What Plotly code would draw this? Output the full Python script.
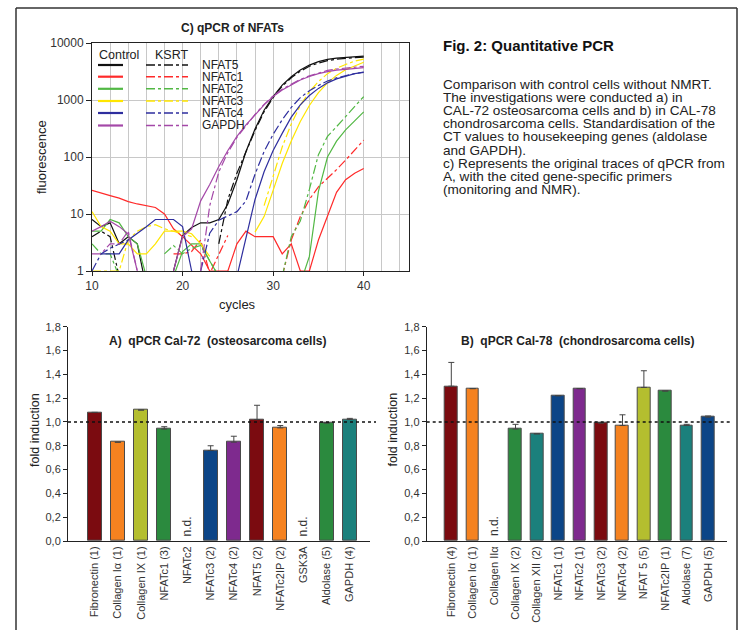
import plotly.graph_objects as go

W, H = 746, 630
def px(x): return x / W
def py(y): return 1 - y / H

FONT = "Liberation Sans, Arial, sans-serif"

# ---------------- qPCR traces (C) ----------------
cycles = list(range(10, 41))
N = None
nfat5_ctrl  = [8, 6, 7, 3, 4, 3, 0.5, 0.5, 0.5, 1, 4.2, 5.8, 7, 7, 8, 15, 40, 125, 310, 660, 1150, 1830, 2560, 3350, 4100, 4700, 5150, 5430, 5600, 5750, 5900]
nfat5_ksrt  = [4, 5, 4, 0.8, N, N, N, N, N, N, N, N, N, N, 3, 18, 52, 125, 290, 620, 1100, 1750, 2450, 3200, 3900, 4450, 4900, 5200, 5400, 5550, 5650]
nfatc1_ctrl = [26, 23, 21, 19, 16.5, 15, 14, 13, 10, 5.5, 4, 2.8, 2, 1, 1, 1, 3, 5, 4, 4, 4, 2, 3, 1, 1, 3.5, 9.5, 24, 40, 52, 63]
nfatc1_ksrt = [N, N, N, N, N, N, N, N, N, 2, 2, 2.2, 3.5, 0.9, 2, 4.2, N, N, N, N, N, 0.8, 3.5, 9, 18, 30, 42, 60, 88, 133, 198]
nfatc2_ctrl = [5, 5, 8, 7, 4, 3, 0.8, N, N, 0.8, 2.2, 3, 3, 1.5, 0.8, N, N, N, N, N, N, N, N, 0.6, 1.8, 25, 100, 190, 300, 430, 620]
nfatc2_ksrt = [3, 2, 2, 0.8, N, N, N, N, 2, 2.8, 2, 2.5, 2.8, 1.5, 0.8, N, N, N, N, N, N, 0.8, 4, 7.5, 27, 110, 230, 340, 510, 760, 1150]
nfatc3_ctrl = [11, 6, 5, 3, 3, 2, 2, 3, 5, 5, 5, 4.5, 3, 1.8, N, N, N, N, 4.8, 9, 26, 77, 190, 420, 800, 1350, 2000, 2700, 3400, 4000, 4600]
nfatc3_ksrt = [1, 1, 1, 1, 3.5, 5, 6, 6.5, 5.5, 5, 4.5, 4, N, N, N, N, N, N, N, 14, 45, 150, 380, 800, 1400, 2100, 2900, 3600, 4200, 4800, 5200]
nfatc4_ctrl = [N, 2, 2, 2, 3.5, 4.5, 6, 8, 8, 8, 6, 1, 0.5, N, N, N, 0.8, 4, 18, 55, 130, 260, 500, 820, 1200, 1600, 2000, 2350, 2650, 2900, 3050]
nfatc4_ksrt = [1, 2, 2.5, 3, 3.5, N, N, N, N, N, N, N, 1, 4.6, 7.8, 9.3, 11, 17, 50, 125, 250, 450, 740, 1100, 1450, 1800, 2150, 2450, 2700, 2900, 3100]
gapdh_ctrl  = [5, 6, 7.5, 6, 4.5, 1, 0.5, N, N, 1, 4, 5.5, 17, 33, 68, 130, 230, 365, 550, 820, 1150, 1500, 1830, 2240, 2580, 2900, 3150, 3350, 3450, 3580, 3700]
gapdh_ksrt  = [2, 2, 3, 3, 5, 1, 0.5, N, N, N, N, N, 1, 14, 55, 120, 220, 360, 560, 840, 1180, 1550, 1900, 2300, 2650, 3000, 3300, 3500, 3650, 3800, 3900]

genes = ["NFAT5", "NFATc1", "NFATc2", "NFATc3", "NFATc4", "GAPDH"]
gene_colors = ["#111111", "#FF2A2A", "#52B844", "#FFE600", "#2E2E9E", "#A448A8"]
ctrl_series = [nfat5_ctrl, nfatc1_ctrl, nfatc2_ctrl, nfatc3_ctrl, nfatc4_ctrl, gapdh_ctrl]
ksrt_series = [nfat5_ksrt, nfatc1_ksrt, nfatc2_ksrt, nfatc3_ksrt, nfatc4_ksrt, gapdh_ksrt]

# ---------------- bar charts ----------------
a_labels = ["Fibronectin (1)", "Collagen I\u03b1 (1)", "Collagen IX (1)", "NFATc1 (3)", "NFATc2", "NFATc3 (2)",
            "NFATc4 (2)", "NFAT5 (2)", "NFATc2IP (2)", "GSK3A", "Aldolase (5)", "GAPDH (4)"]
a_values = [1.08, 0.83, 1.10, 0.94, None, 0.76, 0.83, 1.02, 0.95, None, 0.99, 1.02]
a_errors = [0, 0, 0, 0.02, 0, 0.04, 0.05, 0.12, 0.02, 0, 0.005, 0.01]
a_nd = ["NFATc2", "GSK3A"]

b_labels = ["Fibronectin (4)", "Collagen I\u03b1 (1)", "Collagen II\u03b1", "Collagen IX (2)", "Collagen XII (2)",
            "NFATc1 (1)", "NFATc2 (1)", "NFATc3 (2)", "NFATc4 (2)", "NFAT 5 (5)", "NFATc2IP (1)", "Aldolase (7)", "GAPDH (5)"]
b_values = [1.30, 1.28, None, 0.94, 0.90, 1.22, 1.28, 0.99, 0.97, 1.29, 1.26, 0.97, 1.04]
b_errors = [0.20, 0, 0, 0.04, 0, 0, 0, 0.005, 0.09, 0.14, 0, 0.01, 0.01]
b_nd = ["Collagen II\u03b1"]

DR, OR, OL, GR, NV, PU, TE = "#7B0B10", "#F58220", "#B4BE2F", "#2B8A3E", "#0C4587", "#7E2A8E", "#1B807C"
a_colors = [DR, OR, OL, GR, GR, NV, PU, DR, OR, OR, GR, TE]
b_colors = [DR, OR, OR, GR, TE, NV, PU, DR, OR, OL, GR, TE, NV]

fold_ticks = [0, 0.2, 0.4, 0.6, 0.8, 1.0, 1.2, 1.4, 1.6, 1.8]
fold_ticktext = [f"{v:.1f}".replace(".", ",") for v in fold_ticks]

fig = go.Figure()

# qPCR traces
for g, col, yc, yk in zip(genes, gene_colors, ctrl_series, ksrt_series):
    fig.add_trace(go.Scatter(x=cycles, y=yc, mode="lines", line=dict(color=col, width=1.2),
                             connectgaps=False, showlegend=False, xaxis="x", yaxis="y", name=g + " control"))
    fig.add_trace(go.Scatter(x=cycles, y=yk, mode="lines", line=dict(color=col, width=1.2, dash="dashdot"),
                             connectgaps=False, showlegend=False, xaxis="x", yaxis="y", name=g + " KSRT"))

def add_bars(labels, values, errors, colors, xa, ya):
    idx = list(range(len(labels)))
    fig.add_trace(go.Bar(x=idx, y=values, width=0.6,
                         marker=dict(color=colors, line=dict(color="#4a4a4a", width=1)),
                         error_y=dict(type="data", symmetric=False, array=errors, arrayminus=[0] * len(errors),
                                      color="#444", thickness=1, width=3),
                         showlegend=False, xaxis=xa, yaxis=ya))

add_bars(a_labels, a_values, a_errors, a_colors, "x2", "y2")
add_bars(b_labels, b_values, b_errors, b_colors, "x3", "y3")

tickfont = dict(family=FONT, size=12, color="#333")
grid = "#C8C8C8"

layout = dict(
    width=W, height=H, margin=dict(l=0, r=0, t=0, b=0, autoexpand=False),
    paper_bgcolor="white", plot_bgcolor="white", font=dict(family=FONT, color="#222"),
    bargap=0,
    xaxis=dict(domain=[px(92), px(409)], range=[10, 45], tickvals=[10, 20, 30, 40], ticks="outside", ticklen=4,
               tickcolor="#222", showgrid=True, gridcolor=grid, gridwidth=1, automargin=False,
               minor=dict(dtick=2, tick0=10, showgrid=True, gridcolor=grid, ticks=""),
               showline=True, mirror=True, linecolor="#222", linewidth=1, zeroline=False, tickfont=tickfont,
               anchor="y"),
    yaxis=dict(domain=[py(271), py(43)], type="log", range=[0, 4], tickvals=[1, 10, 100, 1000, 10000],
               ticktext=["1", "10", "100", "1000", "10000"], ticks="outside", ticklen=5, tickcolor="#222",
               showgrid=True, gridcolor=grid, showline=True, mirror=True, linecolor="#222", linewidth=1,
               zeroline=False, tickfont=tickfont, anchor="x", automargin=False),
)

def bar_axes(n, xdom):
    xa = dict(domain=xdom, range=[-1.15, n - 1 + 0.87], tickvals=list(range(n)), ticks="", showgrid=False,
              showline=True, linecolor="#222", linewidth=1, zeroline=False, tickangle=-90, automargin=False,
              tickfont=dict(family=FONT, size=11, color="#333"))
    ya = dict(domain=[py(541), py(326.7)], range=[0, 1.8], tickvals=fold_ticks, ticktext=fold_ticktext,
              ticks="outside", ticklen=4, tickcolor="#222", showgrid=False, showline=True, linecolor="#222",
              linewidth=1, zeroline=False, automargin=False, tickfont=dict(family=FONT, size=11, color="#333"))
    return xa, ya

xa2, ya2 = bar_axes(len(a_labels), [px(68), px(370)])
xa2.update(ticktext=a_labels, anchor="y2"); ya2.update(anchor="x2")
xa3, ya3 = bar_axes(len(b_labels), [px(426.7), px(726.7)])
xa3.update(ticktext=b_labels, anchor="y3"); ya3.update(anchor="x3")
layout.update(xaxis2=xa2, yaxis2=ya2, xaxis3=xa3, yaxis3=ya3)
fig.update_layout(**layout)

shapes = []
# outer frame
for (x0, y0, x1, y1) in [(16, 8, 16, 630), (16, 8, 737, 8), (737, 8, 737, 630)]:
    shapes.append(dict(type="line", xref="paper", yref="paper", x0=px(x0), y0=py(y0), x1=px(x1), y1=py(y1),
                       line=dict(color="#333", width=1.5)))
# legend background in qPCR plot
shapes.append(dict(type="rect", xref="paper", yref="paper", x0=px(92.6), x1=px(190), y0=py(132), y1=py(43.6),
                   fillcolor="white", line=dict(width=0), layer="between"))
# dotted reference lines at 1.0
for xr, yr in [("x2 domain", "y2"), ("x3 domain", "y3")]:
    shapes.append(dict(type="line", xref=xr, yref=yr, x0=0, x1=1.02, y0=1.0, y1=1.0,
                       line=dict(color="#111", width=1.5, dash="dot")))

annotations = []
def txt(text, x, y, size=12, bold=False, anchor="center", angle=0, color="#222", yanchor="middle"):
    annotations.append(dict(text=f"<b>{text}</b>" if bold else text, x=px(x), y=py(y), xref="paper", yref="paper",
                            showarrow=False, xanchor=anchor, yanchor=yanchor, textangle=angle,
                            font=dict(family=FONT, size=size, color=color)))

# legend for qPCR
legend_rows = [65, 76.7, 88.8, 101, 113, 125.5]
txt("Control", 97, 55, size=12.5, anchor="left")
txt("KSRT", 153, 55, size=12.5, anchor="left")
for g, col, yy in zip(genes, gene_colors, legend_rows):
    shapes.append(dict(type="line", xref="paper", yref="paper", x0=px(98), x1=px(123), y0=py(yy), y1=py(yy),
                       line=dict(color=col, width=2.2)))
    shapes.append(dict(type="line", xref="paper", yref="paper", x0=px(146), x1=px(188), y0=py(yy), y1=py(yy),
                       line=dict(color=col, width=1.4, dash="dashdot")))
    txt(g, 200, yy, size=12, anchor="left")

txt("C) qPCR of NFATs", 232, 28, size=12, bold=True)
txt("fluorescence", 41, 157, size=13, angle=-90)
txt("cycles", 237, 304, size=13)

txt("A)\u00a0\u00a0qPCR Cal-72\u00a0\u00a0(osteosarcoma cells)", 217, 341, size=12, bold=True)
txt("B)\u00a0\u00a0qPCR Cal-78\u00a0\u00a0(chondrosarcoma cells)", 577, 341, size=12, bold=True)
txt("fold induction", 35, 430, size=12.5, angle=-90)
txt("fold induction", 392.5, 430, size=12.5, angle=-90)

for lab in a_nd:
    i = a_labels.index(lab)
    annotations.append(dict(text="n.d.", x=i, y=0, xref="x2", yref="y2", showarrow=False, textangle=-90,
                            xanchor="center", yanchor="bottom", yshift=3, font=dict(family=FONT, size=12, color="#333")))
for lab in b_nd:
    i = b_labels.index(lab)
    annotations.append(dict(text="n.d.", x=i, y=0, xref="x3", yref="y3", showarrow=False, textangle=-90,
                            xanchor="center", yanchor="bottom", yshift=3, font=dict(family=FONT, size=12, color="#333")))

txt("Fig. 2: Quantitative PCR", 441, 46, size=15, bold=True, anchor="left", color="#111")
body = ["Comparison with control cells without NMRT.",
        "The investigations were conducted a) in",
        "CAL-72 osteosarcoma cells and b) in CAL-78",
        "chondrosarcoma cells. Standardisation of the",
        "CT values to housekeeping genes (aldolase",
        "and GAPDH).",
        "c) Represents the original traces of qPCR from",
        "A, with the cited gene-specific primers",
        "(monitoring and NMR)."]
body_y = [84.3, 97.3, 110.6, 123.7, 136.8, 150, 163.3, 176.5, 189.5]
for line, yy in zip(body, body_y):
    txt(line, 441, yy, size=13.6, anchor="left", color="#222")

fig.update_layout(shapes=shapes, annotations=annotations)
fig.write_html("out.html", config={"displayModeBar": False},
               post_script="document.body.style.margin='0px';document.body.style.overflow='hidden';")
